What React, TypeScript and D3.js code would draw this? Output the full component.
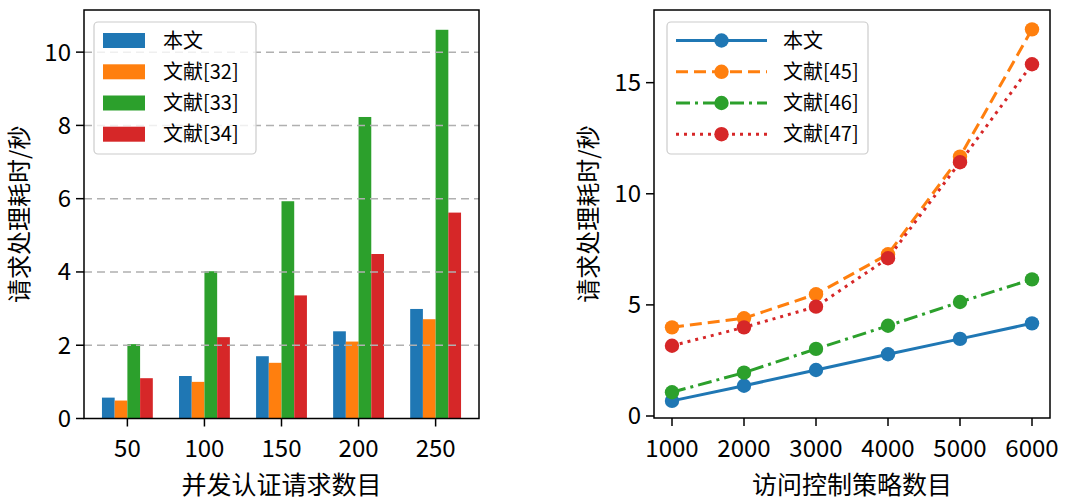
import React from "react";
import * as d3 from "d3";

const barCategories = ["50", "100", "150", "200", "250"];
const barSeriesNames = ["本文", "文献[32]", "文献[33]", "文献[34]"];
const barOurs = [0.57, 1.16, 1.7, 2.38, 2.99];
const barRef32 = [0.49, 1.0, 1.52, 2.1, 2.71];
const barRef33 = [2.03, 4.02, 5.93, 8.23, 10.61];
const barRef34 = [1.1, 2.22, 3.36, 4.49, 5.62];
const barYTicks = [0, 2, 4, 6, 8, 10];

const lineX = [1000, 2000, 3000, 4000, 5000, 6000];
const lineSeriesNames = ["本文", "文献[45]", "文献[46]", "文献[47]"];
const lineOurs = [0.68, 1.36, 2.07, 2.78, 3.47, 4.17];
const lineRef45 = [3.99, 4.4, 5.48, 7.28, 11.67, 17.4];
const lineRef46 = [1.07, 1.95, 3.02, 4.06, 5.13, 6.15];
const lineRef47 = [3.16, 3.99, 4.92, 7.1, 11.42, 15.83];
const lineYTicks = [0, 5, 10, 15];

const colors = ["#1f77b4", "#ff7f0e", "#2ca02c", "#d62728"];
const dashes = ["none", "12,6", "14,5,3,5", "3,5"];
const FONT = "'Noto Sans CJK SC', 'DejaVu Sans', sans-serif";

export default function App() {
  const W = 1080, H = 502;
  // left chart
  const L = { left: 84, right: 479, top: 10, bottom: 418.5 };
  const xL = d3.scaleLinear().domain([-0.563, 4.563]).range([L.left, L.right]);
  const yL = d3.scaleLinear().domain([0, 11.15]).range([L.bottom, L.top]);
  const barData = [barOurs, barRef32, barRef33, barRef34];
  const bw = 0.165;

  // right chart
  const R = { left: 654, right: 1050, top: 10, bottom: 418 };
  const xR = d3.scaleLinear().domain([750, 6250]).range([R.left, R.right]);
  const yR = d3.scaleLinear().domain([-0.09, 18.27]).range([R.bottom, R.top]);
  const lineData = [lineOurs, lineRef45, lineRef46, lineRef47];
  const lineGen = d3.line<number>().x((_, i) => xR(lineX[i])).y((d) => yR(d));

  const legRows = [40.5, 71.8, 103, 134.2];

  return (
    <svg width={W} height={H} style={{ position: "absolute", left: 0, top: 0, fontFamily: FONT }}>
      <rect x={0} y={0} width={W} height={H} fill="#fff" />
      {/* LEFT CHART */}
      {barData.map((vals, j) =>
        vals.map((v, i) => (
          <rect
            key={`b${j}-${i}`}
            x={xL(i - 2 * bw + j * bw)}
            width={xL(bw) - xL(0)}
            y={yL(v)}
            height={yL(0) - yL(v)}
            fill={colors[j]}
          />
        ))
      )}
      {barYTicks.filter((t) => t > 0).map((t) => (
        <line key={`g${t}`} x1={L.left} x2={L.right} y1={yL(t)} y2={yL(t)} stroke="#b0b0b0" strokeWidth={1.5} strokeDasharray="8,5" />
      ))}
      <rect x={L.left} y={L.top} width={L.right - L.left} height={L.bottom - L.top} fill="none" stroke="#000" strokeWidth={1.5} />
      {barYTicks.map((t) => (
        <g key={`yl${t}`}>
          <line x1={L.left - 8} x2={L.left} y1={yL(t)} y2={yL(t)} stroke="#000" strokeWidth={1.5} />
          <text x={L.left - 13} y={yL(t)} dy="0.35em" textAnchor="end" fontSize={24}>{t}</text>
        </g>
      ))}
      {barCategories.map((c, i) => (
        <g key={`xl${c}`}>
          <line x1={xL(i)} x2={xL(i)} y1={L.bottom} y2={L.bottom + 8} stroke="#000" strokeWidth={1.5} />
          <text x={xL(i)} y={457} textAnchor="middle" fontSize={24}>{c}</text>
        </g>
      ))}
      <text x={(L.left + L.right) / 2} y={494} textAnchor="middle" fontSize={25}>并发认证请求数目</text>
      <text transform={`translate(${28},${(L.top + L.bottom) / 2}) rotate(-90)`} textAnchor="middle" fontSize={24}>请求处理耗时/秒</text>
      {/* left legend */}
      <rect x={94} y={22} width={162} height={132} rx={4} fill="#fff" fillOpacity={0.8} stroke="#cccccc" strokeWidth={1.2} />
      {barSeriesNames.map((n, j) => (
        <g key={`lg${j}`}>
          <rect x={103} y={legRows[j] - 7.5} width={42} height={15} fill={colors[j]} />
          <text x={163} y={legRows[j]} dy="0.36em" fontSize={20}>{n}</text>
        </g>
      ))}

      {/* RIGHT CHART */}
      {lineData.map((vals, j) => (
        <g key={`ln${j}`}>
          <path d={lineGen(vals) || ""} fill="none" stroke={colors[j]} strokeWidth={3} strokeDasharray={dashes[j]} />
          {vals.map((v, i) => (
            <circle key={i} cx={xR(lineX[i])} cy={yR(v)} r={7.2} fill={colors[j]} />
          ))}
        </g>
      ))}
      <rect x={R.left} y={R.top} width={R.right - R.left} height={R.bottom - R.top} fill="none" stroke="#000" strokeWidth={1.5} />
      {lineYTicks.map((t) => (
        <g key={`ryl${t}`}>
          <line x1={R.left - 8} x2={R.left} y1={yR(t)} y2={yR(t)} stroke="#000" strokeWidth={1.5} />
          <text x={R.left - 13} y={yR(t)} dy="0.35em" textAnchor="end" fontSize={24}>{t}</text>
        </g>
      ))}
      {lineX.map((c) => (
        <g key={`rxl${c}`}>
          <line x1={xR(c)} x2={xR(c)} y1={R.bottom} y2={R.bottom + 8} stroke="#000" strokeWidth={1.5} />
          <text x={xR(c)} y={457} textAnchor="middle" fontSize={24}>{c}</text>
        </g>
      ))}
      <text x={(R.left + R.right) / 2} y={494} textAnchor="middle" fontSize={25}>访问控制策略数目</text>
      <text transform={`translate(${597},${(R.top + R.bottom) / 2}) rotate(-90)`} textAnchor="middle" fontSize={24}>请求处理耗时/秒</text>
      {/* right legend */}
      <rect x={667} y={22} width={201} height={132} rx={4} fill="#fff" fillOpacity={0.8} stroke="#cccccc" strokeWidth={1.2} />
      {lineSeriesNames.map((n, j) => (
        <g key={`rg${j}`}>
          <line x1={676} x2={767} y1={legRows[j]} y2={legRows[j]} stroke={colors[j]} strokeWidth={3} strokeDasharray={dashes[j]} />
          <circle cx={721.5} cy={legRows[j]} r={7.2} fill={colors[j]} />
          <text x={783} y={legRows[j]} dy="0.36em" fontSize={20}>{n}</text>
        </g>
      ))}
    </svg>
  );
}
